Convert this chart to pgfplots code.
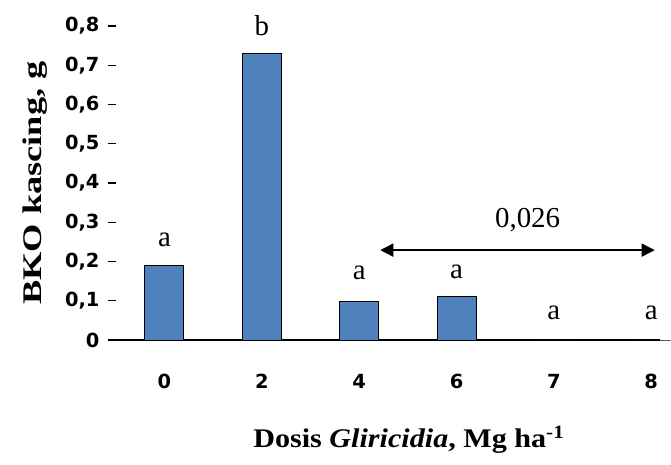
\documentclass[border=0pt]{standalone}
\usepackage{pgfplots}
\pgfplotsset{compat=1.18}
\usepackage{fontspec}
\setmainfont{Liberation Serif}
\setsansfont{DejaVu Sans}
\usetikzlibrary{arrows.meta}
\definecolor{barblue}{HTML}{4F81BD}
\begin{document}
\begin{tikzpicture}
\path[use as bounding box] (-108bp,-125bp) rectangle (563bp,340bp);
\begin{axis}[
  scale only axis,
  width=552bp, height=314bp,
  xmin=-0.58, xmax=5.09,
  ymin=0, ymax=0.8,
  axis lines*=left,
  y axis line style={draw=none},
  x axis line style={black, line width=1.6bp},
  xtick={0,1,2,3,4,5},
  xticklabels={0,2,4,6,7,8},
  xtick style={draw=none},
  ytick={0,0.1,...,0.8},
  ytick style={black, line width=1.2bp},
  tick align=inside,
  major tick length=8bp,
  /pgf/number format/.cd, use comma, fixed, precision=1, assume math mode=true,
  /pgfplots/.cd,
  tick label style={font=\fontsize{19.5}{23}\selectfont\sffamily\bfseries},
  yticklabel style={xshift=-5bp},
  xticklabel style={anchor=base, yshift=-48bp},
  xlabel={\scalebox{1.12}[1]{Dosis \textit{Gliricidia}, Mg ha\textsuperscript{-1}}},
  ylabel={\scalebox{1.35}[1]{BKO kascing, g}},
  label style={font=\fontsize{27}{32}\selectfont\bfseries},
  xlabel style={at={(axis description cs:0.545,-0.341)}, anchor=base},
  ylabel style={at={(axis description cs:-0.132,0.5)}, anchor=center},
  clip=false,
]
\addplot[ybar, bar width=0.40, fill=barblue, draw=black, line width=1bp]
  coordinates {(0,0.189) (1,0.730) (2,0.098) (3,0.110) (4,0) (5,0)};
\begin{scope}[font=\fontsize{29}{34}\selectfont]
\node at (axis cs:0,0.255) {a};
\node at (axis cs:1,0.800) {b};
\node at (axis cs:2,0.171) {a};
\node at (axis cs:3,0.174) {a};
\node at (axis cs:4,0.069) {a};
\node at (axis cs:5,0.069) {a};
\node at (axis cs:3.73,0.306) {0,026};
\end{scope}
\draw[{Triangle[length=13bp,width=13bp]}-{Triangle[length=13bp,width=13bp]}, line width=1.6bp]
  (axis cs:2.217,0.229) -- (axis cs:5.036,0.229);
\end{axis}
\end{tikzpicture}
\end{document}
